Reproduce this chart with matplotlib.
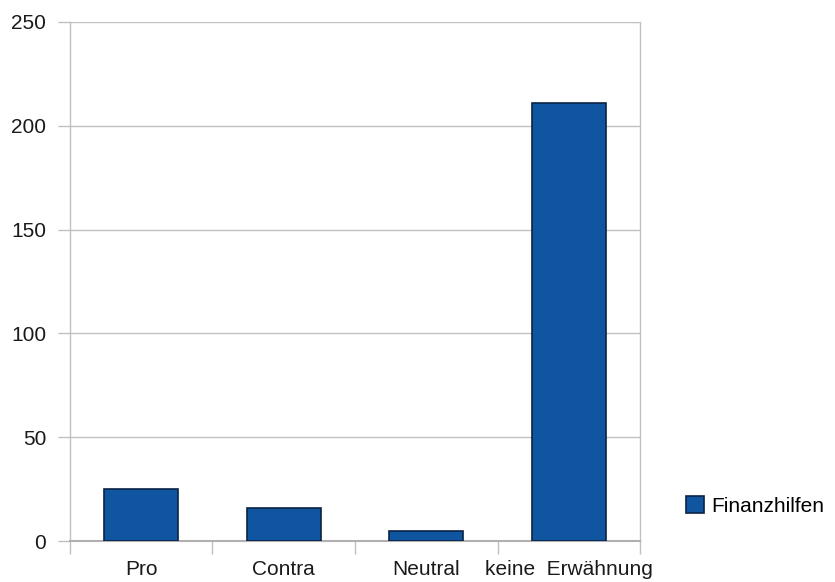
import matplotlib.pyplot as plt
import numpy as np

plt.rcParams['font.family'] = ['Liberation Sans', 'DejaVu Sans']

categories = ['Pro', 'Contra', 'Neutral', 'keine  Erwähnung']
values = [25, 16, 5, 211]
series_name = 'Finanzhilfen'

grid_col = '#c0c0c0'
bar_col = '#0f559f'
edge_col = '#0b2347'

fig = plt.figure(figsize=(8.35, 5.82), dpi=100)
ax = fig.add_axes([0.0838, 0.0704, 0.6827, 0.8918])

x = np.arange(len(categories))
ax.bar(x, values, width=0.52, color=bar_col, edgecolor=edge_col, linewidth=1.2,
       label=series_name, zorder=3)

ax.set_xlim(-0.5, len(categories) - 0.5)
ax.set_ylim(0, 250)
ax.set_yticks(np.arange(0, 251, 50))
ax.yaxis.grid(True, color=grid_col, linewidth=1.0, zorder=0)

# boundary ticks (no labels) and centred labels (no ticks)
ax.set_xticks(np.arange(-0.5, len(categories)), labels=[''] * (len(categories) + 1))
ax.set_xticks(x, labels=categories, minor=True)
ax.tick_params(axis='x', which='major', length=9, width=1, color=grid_col, direction='out')
ax.tick_params(axis='x', which='minor', length=0, pad=14, labelsize=15, colors='#1a1a1a')
ax.tick_params(axis='y', length=9, width=1, color=grid_col, pad=8, labelsize=15,
               labelcolor='#1a1a1a')

for s in ['left', 'right']:
    ax.spines[s].set_color(grid_col)
    ax.spines[s].set_linewidth(1.0)
ax.spines['top'].set_visible(False)
ax.spines['bottom'].set_color('#b0b0b0')
ax.spines['bottom'].set_linewidth(1.5)

leg = fig.legend(loc='center left', bbox_to_anchor=(0.822, 0.131), frameon=False,
                 fontsize=15, handlelength=0.85, handleheight=0.85, handletextpad=0.35,
                 borderaxespad=0, borderpad=0)

fig.savefig('out.png', dpi=100)
